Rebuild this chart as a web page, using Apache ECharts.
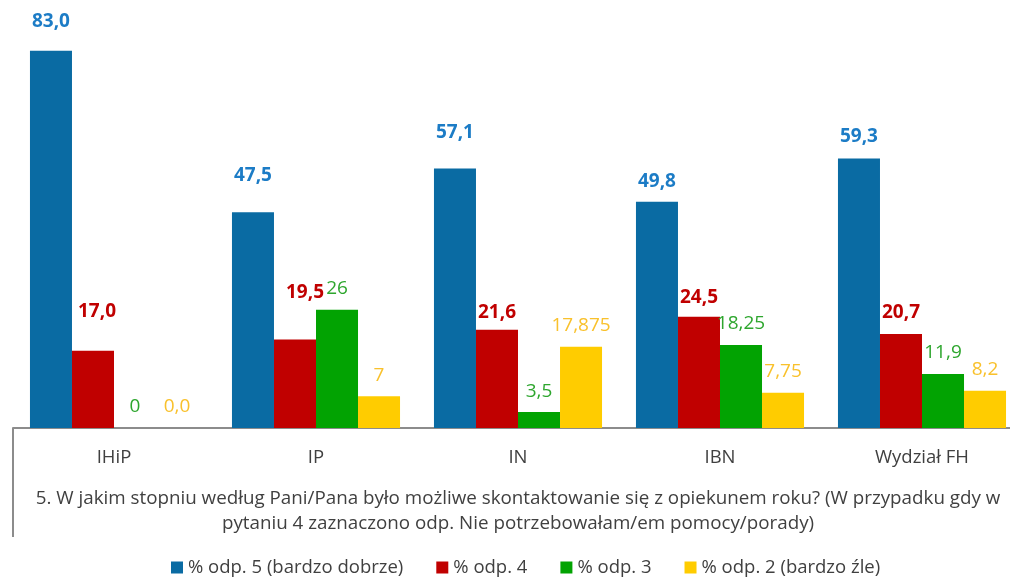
<!DOCTYPE html>
<html>
<head>
<meta charset="utf-8">
<script src="https://cdn.jsdelivr.net/npm/echarts@6/dist/echarts.min.js"></script>
<style>
html,body{margin:0;padding:0;background:#fff;overflow:hidden;}
#c{width:1023px;height:578px;}
</style>
</head>
<body>
<div id="c"></div>
<script>
var categories = ['IHiP', 'IP', 'IN', 'IBN', 'Wydział FH'];
var seriesNames = ['% odp. 5 (bardzo dobrze)', '% odp. 4', '% odp. 3', '% odp. 2 (bardzo źle)'];
var odp5 = [83.0, 47.5, 57.1, 49.8, 59.3];
var odp4 = [17.0, 19.5, 21.6, 24.5, 20.7];
var odp3 = [0, 26, 3.5, 18.25, 11.9];
var odp2 = [0, 7, 17.875, 7.75, 8.2];
var odp5Labels = ['83,0', '47,5', '57,1', '49,8', '59,3'];
var odp4Labels = ['17,0', '19,5', '21,6', '24,5', '20,7'];
var odp3Labels = ['0', '26', '3,5', '18,25', '11,9'];
var odp2Labels = ['0,0', '7', '17,875', '7,75', '8,2'];
var axisTitle = '5. W jakim stopniu według Pani/Pana było możliwe skontaktowanie się z opiekunem roku? (W przypadku gdy w\npytaniu 4 zaznaczono odp. Nie potrzebowałam/em pomocy/porady)';

var FONT = 'Open Sans';
var TXT = '#404040';

// label nudges (style, not data)
var nudges = [
  [[0,-8],[0,-15],[0,-14],[0,1],[0,0]],
  [[4,-20],[10,-27],[0,2],[0,0],[0,-2]],
  [[0,0],[0,0],[0,0],[0,0],[0,0]],
  [[0,0],[0,0],[0,0],[0,0],[0,0]]
];

function build(vals, labels, si) {
  return vals.map(function (v, i) {
    return { value: v, label: { offset: nudges[si][i], formatter: labels[i] } };
  });
}

var barColors = ['#0A6BA3', '#C00000', '#02A302', '#FFCC00'];
var labelColors = ['#1C7CC6', '#C00000', '#2EA62E', '#F9C12C'];
var labelWeights = ['bold', 'bold', 'normal', 'normal'];
var distances = [12, 10, 11.5, 11.5];
var allVals = [odp5, odp4, odp3, odp2];
var allLabels = [odp5Labels, odp4Labels, odp3Labels, odp2Labels];

var series = allVals.map(function (vals, si) {
  return {
    name: seriesNames[si],
    type: 'bar',
    barGap: '0%',
    barCategoryGap: '16.8%',
    itemStyle: { color: barColors[si] },
    label: {
      show: true,
      position: 'top',
      distance: distances[si],
      color: labelColors[si],
      fontFamily: FONT,
      fontSize: 19,
      fontWeight: labelWeights[si]
    },
    data: build(vals, allLabels[si], si)
  };
});

var chart = echarts.init(document.getElementById('c'));
chart.setOption({
  animation: false,
  backgroundColor: '#fff',
  grid: { left: 13, right: 0, top: 19, bottom: 150 },
  xAxis: {
    type: 'category',
    data: categories,
    axisLine: { show: true, lineStyle: { color: '#8C8C8C', width: 2 } },
    axisTick: { show: false },
    axisLabel: { color: TXT, fontFamily: FONT, fontSize: 18.5, margin: 20 },
    name: axisTitle,
    nameLocation: 'middle',
    nameGap: 58,
    nameTextStyle: { color: TXT, fontFamily: FONT, fontSize: 18.8, lineHeight: 25 }
  },
  yAxis: {
    type: 'value',
    min: 0,
    max: 90,
    show: false
  },
  legend: {
    top: 553,
    left: 166,
    icon: 'rect',
    itemWidth: 12,
    itemHeight: 12,
    itemGap: 33,
    textStyle: { color: TXT, fontFamily: FONT, fontSize: 18.5 },
    data: seriesNames
  },
  graphic: [{
    type: 'line',
    shape: { x1: 13, y1: 428, x2: 13, y2: 537 },
    style: { stroke: '#8C8C8C', lineWidth: 2 }
  }],
  series: series
});
</script>
</body>
</html>
